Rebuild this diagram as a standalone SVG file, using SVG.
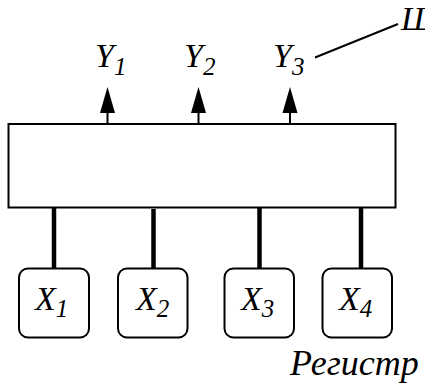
<svg xmlns="http://www.w3.org/2000/svg" width="425" height="385" viewBox="0 0 425 385">
<style>
.t{font-family:"Liberation Serif","Times New Roman",serif;font-style:italic;font-size:34px;fill:#000}
.s{font-size:25px}
.box{fill:#fff;stroke:#000;stroke-width:2}
.thin{stroke:#000;stroke-width:2;fill:none}
.thick{stroke:#000;stroke-width:4.5;fill:none}
.head{fill:#000}
</style>
<rect width="425" height="385" fill="#fff"/>
<g id="connectors">
<line class="thin" x1="107.5" y1="123" x2="107.5" y2="112"/>
<path class="head" d="M100,113 L107.5,87 L115,113 Z"/>
<line class="thin" x1="198.5" y1="123" x2="198.5" y2="112"/>
<path class="head" d="M191,113 L198.5,87 L206,113 Z"/>
<line class="thin" x1="290" y1="123" x2="290" y2="112"/>
<path class="head" d="M282.5,113 L290,87 L297.5,113 Z"/>
<line class="thick" x1="54" y1="208" x2="54" y2="269"/>
<line class="thick" x1="153.5" y1="209" x2="153.5" y2="269"/>
<line class="thick" x1="259.5" y1="208" x2="259.5" y2="272"/>
<line class="thick" x1="361" y1="208" x2="361" y2="269"/>
<line class="thin" x1="315" y1="57.5" x2="398" y2="24"/>
</g>
<g id="register">
<rect class="box" x="8.5" y="124" width="387" height="83.5"/>
</g>
<g id="y-labels">
<text class="t" x="95" y="67">Y<tspan class="s" dy="8">1</tspan></text>
<text class="t" x="184" y="67">Y<tspan class="s" dy="8">2</tspan></text>
<text class="t" x="273" y="67">Y<tspan class="s" dy="8">3</tspan></text>
</g>
<g id="sh-label">
<text class="t" x="401" y="30">Ш</text>
</g>
<g id="x1"><rect class="box" x="19" y="268.5" width="70" height="69" rx="9"/><text class="t" x="35" y="310">X<tspan class="s" dy="7">1</tspan></text></g>
<g id="x2"><rect class="box" x="118" y="268.5" width="69.5" height="69" rx="9"/><text class="t" x="136" y="310">X<tspan class="s" dy="7">2</tspan></text></g>
<g id="x3"><rect class="box" x="224.5" y="268.5" width="69.5" height="69" rx="9"/><text class="t" x="241" y="310">X<tspan class="s" dy="7">3</tspan></text></g>
<g id="x4"><rect class="box" x="322.5" y="268.5" width="69.5" height="69" rx="9"/><text class="t" x="339" y="310">X<tspan class="s" dy="7">4</tspan></text></g>
<g id="caption">
<text class="t" x="290" y="375" style="font-size:36px">Регистр</text>
</g>
</svg>
